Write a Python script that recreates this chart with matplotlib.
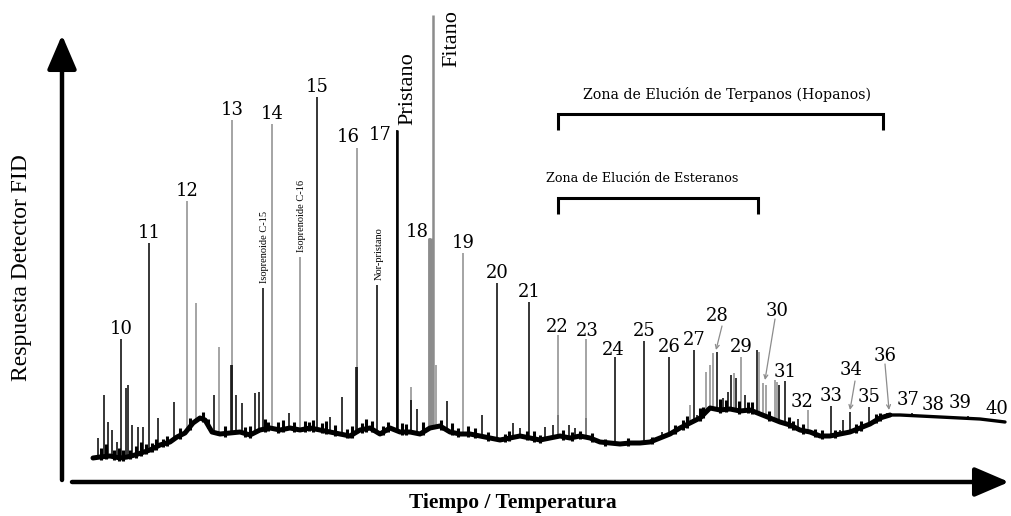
import numpy as np
import matplotlib.pyplot as plt

# ── Data: retention time (arbitrary units) and detector response ──────────────
# baseline of the chromatogram (unresolved hump)
base_t = [93, 100, 110, 120, 127, 135, 150, 160, 170, 177, 185, 193, 200, 205,
          212, 220, 230, 240, 250, 260, 270, 280, 290, 300, 310, 320, 330, 340,
          350, 360, 370, 380, 390, 400, 410, 420, 430, 440, 450, 460, 470, 480,
          490, 500, 510, 520, 530, 540, 550, 560, 570, 580, 590, 600, 610, 620,
          630, 640, 650, 660, 670, 680, 690, 700, 710, 720, 730, 740, 750, 760,
          770, 780, 790, 800, 810, 820, 830, 840, 850, 860, 870, 880, 890, 900,
          920, 940, 960, 980, 1005]
base_r = [58, 59, 60, 58, 59, 61, 66, 71, 74, 79, 83, 93, 98, 96,
          84, 82, 83, 84, 81, 86, 88, 86, 88, 86, 88, 86, 84, 82,
          80, 86, 88, 82, 88, 84, 84, 82, 88, 90, 84, 82, 82, 80,
          78, 76, 78, 80, 78, 76, 78, 80, 78, 80, 78, 74, 73, 72,
          73, 73, 74, 78, 82, 88, 93, 98, 108, 106, 107, 105, 106, 102,
          98, 94, 91, 86, 84, 80, 80, 82, 84, 88, 92, 98, 101, 101,
          100, 99, 98, 97, 94]

# n-alkane peaks C10..C40
nc_labels = [str(n) for n in range(10, 41)]
nc_t = [121, 149, 187, 232, 272, 317, 357, 397, 430, 463, 497, 529, 558, 586,
        615, 644, 669, 694, 717, 741, 757, 785, 808, 831, 850, 869, 889, 912,
        938, 968, 997]
nc_r = [177, 273, 315, 396, 392, 419, 368, 386, 278, 263, 233, 214, 181, 177,
        159, 175, 159, 166, 164, 159, 166, 135, 106, 110, 104, 109, 103, 103,
        99, 100, 96]
nc_gray = [0, 0, 1, 1, 1, 0, 1, 0, 1, 1, 0, 0, 1, 1,
           0, 0, 0, 0, 0, 1, 0, 0, 1, 0, 0, 0, 0, 0,
           0, 0, 0]

# isoprenoids
iso_names = ['Isoprenoide C-15', 'Isoprenoide C-16', 'Nor-pristano']
iso_t = [263, 300, 377]
iso_r = [228, 259, 231]
iso_gray = [0, 1, 0]

# pristane / phytane
fit_t, fit_r = 433, 501
pri_t = 397

# minor resolved peaks (t, response, gray?)
minor_t = [98, 104, 108, 112, 117, 126, 128, 132, 138, 143, 158, 174, 196, 214,
           219, 231, 236, 242, 255, 259, 289, 330, 342, 356, 411, 411, 417, 436,
           447, 482, 513, 520, 545, 553, 558, 569, 575, 586, 662, 690, 697, 706,
           710, 713, 723, 728, 731, 734, 736, 745, 759, 763, 766, 775, 777, 779,
           798, 840, 843, 887]
minor_r = [78, 121, 94, 86, 74, 128, 131, 91, 89, 89, 98, 114, 213, 121,
           169, 151, 121, 113, 123, 124, 103, 99, 119, 149, 129, 116, 107, 151,
           115, 101, 93, 88, 89, 91, 101, 91, 88, 98, 84, 111, 101, 144,
           151, 163, 118, 124, 141, 143, 138, 121, 164, 133, 131, 136, 134, 131,
           97, 86, 96, 103]
minor_gray = [0, 0, 0, 0, 0, 0, 0, 0, 0, 0, 0, 0, 1, 0,
              1, 0, 0, 0, 0, 0, 0, 0, 0, 0, 1, 0, 0, 1,
              0, 0, 0, 0, 0, 0, 0, 0, 0, 0, 0, 1, 0, 1,
              1, 1, 0, 0, 0, 1, 0, 0, 1, 1, 1, 1, 1, 0,
              0, 0, 0, 0]

# small unresolved spikes riding on the baseline (height above baseline)
grass_t = [101, 106, 114, 119, 123, 130, 136, 141, 146, 152, 156, 163, 167, 180,
           190, 203, 208, 225, 245, 250, 265, 268, 278, 283, 294, 305, 309, 313,
           322, 326, 335, 347, 352, 362, 366, 372, 383, 388, 402, 406, 423, 441,
           452, 458, 468, 475, 488, 505, 509, 527, 534, 540, 563, 572, 580, 592,
           605, 628, 652, 675, 683, 687, 700, 703, 720, 726, 739, 748, 752, 769,
           789, 793, 803, 815, 822, 835, 856, 861, 876, 880]
grass_h = [9, 12, 7, 10, 8, 6, 9, 11, 7, 6, 8, 5, 7, 8,
           9, 7, 6, 8, 7, 9, 10, 6, 8, 9, 7, 8, 6, 9,
           7, 10, 8, 6, 9, 7, 10, 8, 6, 7, 9, 8, 10, 7,
           9, 6, 8, 7, 6, 5, 7, 6, 8, 5, 7, 6, 5, 6,
           4, 5, 4, 6, 7, 9, 10, 8, 11, 9, 10, 8, 9, 7,
           8, 6, 7, 5, 6, 5, 6, 7, 6, 5]

# elution zones
zone_names = ['Zona de Elución de Terpanos (Hopanos)', 'Zona de Elución de Esteranos']
zone_start = [558, 558]
zone_end = [883, 758]
zone_level = [402, 318]
zone_fs = [10.2, 9.2]

GRAY = '#8c8c8c'

# label offsets (dx, dy) for crowded peak numbers
label_off = {'16': (-9, 11), '17': (-17, -5), '18': (-13, 6), '22': (-1, 8),
             '23': (1, 8), '24': (-2, 7), '28': (0, 36), '30': (20, 39),
             '31': (0, 9), '32': (-6, 8), '34': (1, 42), '36': (-4, 57),
             '37': (-4, 13), '38': (-5, 12), '39': (-8, 13), '40': (0, 11)}
arrow_peaks = {'28': (5, 26, -1, 2), '30': (18, 31, 8, -30), '34': (5, 31, 0, 2),
               '36': (-4, 49, 0, 3)}


def baseline(t):
    return np.interp(t, base_t, base_r)


fig = plt.figure(figsize=(10.12, 5.16), dpi=100)
ax = fig.add_axes([0, 0, 1, 1])
ax.set_xlim(0, 1012)
ax.set_ylim(0, 516)
ax.axis('off')

# minor peaks
for t, r, g in zip(minor_t, minor_r, minor_gray):
    ax.vlines(t, baseline(t), r, color=GRAY if g else 'k', lw=1.1, zorder=2)

# baseline grass
gt = np.array(grass_t)
ax.vlines(gt, baseline(gt) - 3, baseline(gt) + np.array(grass_h), color='k',
          lw=2.2, zorder=4)

# named peaks
for t, r, g, lab in zip(nc_t, nc_r, nc_gray, nc_labels):
    if lab not in ('40',):
        ax.vlines(t, baseline(t), r, color=GRAY if g else 'k', lw=1.1, zorder=2)
# heavier pristane / phytane region
ax.vlines(pri_t, baseline(pri_t), nc_r[7], color='k', lw=1.8, zorder=3)
ax.vlines(nc_t[8], baseline(nc_t[8]), nc_r[8], color=GRAY, lw=3.5, zorder=2)
ax.vlines(fit_t, baseline(fit_t), fit_r, color=GRAY, lw=1.8, zorder=3)
# black cores inside gray peaks
ax.vlines(232, baseline(232), 151, color='k', lw=1.1, zorder=3)
ax.vlines(357, baseline(357), 149, color='k', lw=1.1, zorder=3)

for t, r, g, name in zip(iso_t, iso_r, iso_gray, iso_names):
    ax.vlines(t, baseline(t), r, color=GRAY if g else 'k', lw=1.1, zorder=2)
    ax.text(t + 2, r + 5, name, rotation=90, ha='center', va='bottom',
            family='Liberation Serif', fontsize=7.5)

# baseline drawn on top
tt = np.array(base_t)
ax.plot(tt[tt <= 890], baseline(tt[tt <= 890]), color='k', lw=3.6,
        solid_joinstyle='round', solid_capstyle='round', zorder=4)
ax.plot(tt[tt >= 880], baseline(tt[tt >= 880]), color='k', lw=2.4,
        solid_joinstyle='round', solid_capstyle='round', zorder=4)

# peak numbers
for t, r, lab in zip(nc_t, nc_r, nc_labels):
    dx, dy = label_off.get(lab, (0, 10))
    ax.text(t + dx, r + dy, lab, ha='center', va='center',
            family='DejaVu Serif', fontsize=13)
    if lab in arrow_peaks:
        ax0, ay0, ax1, ay1 = arrow_peaks[lab]
        ax.annotate('', xy=(t + ax1, r + ay1), xytext=(t + ax0, r + ay0),
                    arrowprops=dict(arrowstyle='->', color=GRAY, lw=0.9,
                                    shrinkA=0, shrinkB=0, mutation_scale=7),
                    zorder=5)

ax.text(pri_t + 11, 391, 'Pristano', rotation=90, ha='center', va='bottom',
        family='Liberation Serif', fontsize=16)
ax.text(fit_t + 19, 449, 'Fitano', rotation=90, ha='center', va='bottom',
        family='Liberation Serif', fontsize=16)

# elution zone brackets
for name, t0, t1, lev, fs in zip(zone_names, zone_start, zone_end, zone_level,
                                 zone_fs):
    ax.plot([t0, t0, t1, t1], [lev - 16, lev, lev, lev - 16], color='k',
            lw=2.2, solid_joinstyle='miter', solid_capstyle='butt')
    cx = (t0 + t1) / 2 + 7 if t1 - t0 > 250 else t0 + 84
    ax.text(cx, lev + 19, name, ha='center', va='center',
            family='DejaVu Serif', fontsize=fs)

# axis arrows
arrow_kw = dict(arrowstyle='-|>,head_length=0.7,head_width=0.3', color='k',
                lw=3.2, shrinkA=0, shrinkB=0, mutation_scale=30)
ax.annotate('', xy=(62, 481), xytext=(62, 36), arrowprops=arrow_kw)
ax.annotate('', xy=(1009, 34), xytext=(72, 34), arrowprops=arrow_kw)

ax.text(22, 248, 'Respuesta Detector FID', rotation=90, ha='center',
        va='center', family='Liberation Serif', fontsize=17)
ax.text(513, 13, 'Tiempo / Temperatura', ha='center', va='center',
        family='Liberation Serif', fontsize=15.5, fontweight='bold')

fig.savefig('out.png', dpi=100)
